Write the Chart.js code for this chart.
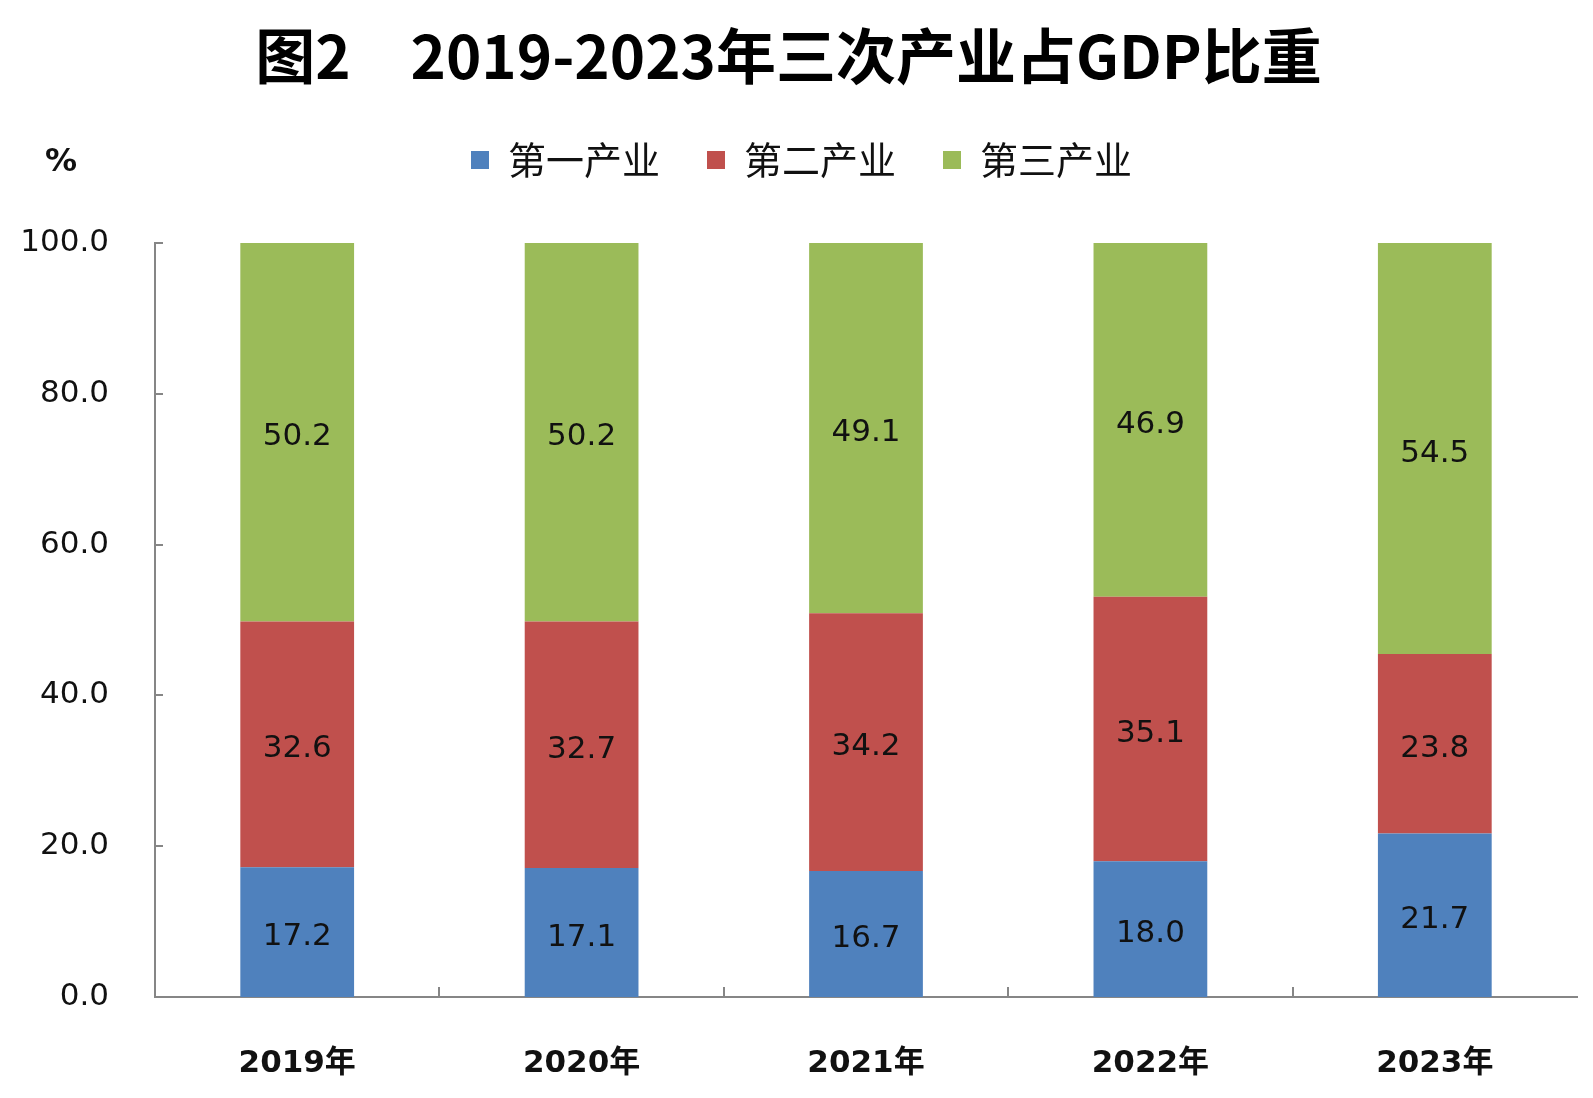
<!DOCTYPE html>
<html><head><meta charset="utf-8">
<script src="https://cdn.jsdelivr.net/npm/chart.js@4/dist/chart.umd.min.js"></script>
<style>html,body{margin:0;padding:0;background:#fff;}#wrap{width:1593px;height:1098px;position:relative;}</style>
</head><body><div id="wrap"><canvas id="c" width="1593" height="1098"></canvas></div>
<script>
const categories = ['2019年','2020年','2021年','2022年','2023年'];
const primary = [17.2, 17.1, 16.7, 18.0, 21.7];
const secondary = [32.6, 32.7, 34.2, 35.1, 23.8];
const tertiary = [50.2, 50.2, 49.1, 46.9, 54.5];
const seriesNames = ['第一产业','第二产业','第三产业'];
const yTicks = [0, 20, 40, 60, 80, 100];
const titleText = '图2　2019-2023年三次产业占GDP比重';
const unitText = '%';

const NUM_FONT = "'DejaVu Sans', 'Noto Sans CJK SC', sans-serif";
const CJK_FONT = "'Noto Sans CJK SC', 'DejaVu Sans', sans-serif";
const AXIS = '#868686';
const PLOT_TOP = 243;

const extras = {
  id: 'extras',
  beforeInit(chart) {
    const lg = chart.legend;
    if (lg) {
      const origFit = lg.fit.bind(lg);
      lg.fit = function () {
        origFit();
        this.height = Math.max(this.height, PLOT_TOP - 94);
      };
    }
  },
  afterLayout(chart) {
    const lg = chart.legend;
    if (lg) { lg.left += 13; lg.right += 13; }
  },
  afterDatasetsDraw(chart) {
    const ctx = chart.ctx;
    ctx.save();
    ctx.font = "31px " + NUM_FONT;
    ctx.fillStyle = '#111';
    ctx.textAlign = 'center';
    ctx.textBaseline = 'middle';
    chart.data.datasets.forEach((ds, i) => {
      const meta = chart.getDatasetMeta(i);
      meta.data.forEach((bar, j) => {
        const p = bar.getProps(['x','y','base'], true);
        ctx.fillText(ds.data[j].toFixed(1), p.x, (p.y + p.base) / 2 + 5);
      });
    });
    ctx.restore();
  },
  afterDraw(chart) {
    const ctx = chart.ctx;
    const x = chart.scales.x, y = chart.scales.y;
    const a = chart.chartArea;
    ctx.save();
    ctx.strokeStyle = AXIS;
    ctx.lineWidth = 2;
    ctx.beginPath();
    yTicks.forEach(v => {
      const py = Math.round(y.getPixelForValue(v));
      ctx.moveTo(a.left, py); ctx.lineTo(a.left + 8, py);
    });
    for (let i = 1; i < categories.length; i++) {
      const px = Math.round((x.getPixelForValue(i - 1) + x.getPixelForValue(i)) / 2);
      ctx.moveTo(px, a.bottom); ctx.lineTo(px, a.bottom - 10);
    }
    ctx.stroke();
    ctx.font = "bold 32px " + NUM_FONT;
    ctx.fillStyle = '#111';
    ctx.textAlign = 'center';
    ctx.textBaseline = 'middle';
    ctx.fillText(unitText, 61, 163);
    ctx.restore();
  }
};

new Chart(document.getElementById('c'), {
  type: 'bar',
  data: {
    labels: categories,
    datasets: [
      { label: seriesNames[0], data: primary, backgroundColor: '#4F81BD' },
      { label: seriesNames[1], data: secondary, backgroundColor: '#C0504D' },
      { label: seriesNames[2], data: tertiary, backgroundColor: '#9BBB59' }
    ]
  },
  options: {
    responsive: false,
    animation: false,
    devicePixelRatio: 1,
    layout: { padding: { left: 0, right: 16, top: 0, bottom: 0 } },
    datasets: { bar: { categoryPercentage: 1.0, barPercentage: 0.4 } },
    plugins: {
      tooltip: { enabled: false },
      title: {
        display: true, text: titleText, color: '#000',
        font: { family: CJK_FONT, size: 60, weight: 'bold', lineHeight: 1.2 },
        padding: { top: 20, bottom: 2 }
      },
      legend: {
        position: 'top',
        labels: {
          color: '#111', boxWidth: 18, boxHeight: 18, padding: 47,
          font: { family: CJK_FONT, size: 38 }
        }
      }
    },
    scales: {
      x: {
        stacked: true,
        grid: { display: false, drawTicks: false },
        border: { display: true, color: AXIS, width: 2 },
        ticks: { color: '#111', padding: 48, font: { family: NUM_FONT, size: 31, weight: 'bold' } },
        afterFit(s) { s.height = 101; }
      },
      y: {
        stacked: true, min: 0, max: 100,
        grid: { display: false, drawTicks: false },
        border: { display: true, color: AXIS, width: 2 },
        afterBuildTicks(s) { s.ticks = yTicks.map(v => ({ value: v })); },
        ticks: {
          color: '#111', padding: 46,
          font: { family: NUM_FONT, size: 31 },
          callback: v => Number(v).toFixed(1)
        },
        afterFit(s) { s.width = 155; }
      }
    }
  },
  plugins: [extras]
});
</script></body></html>
